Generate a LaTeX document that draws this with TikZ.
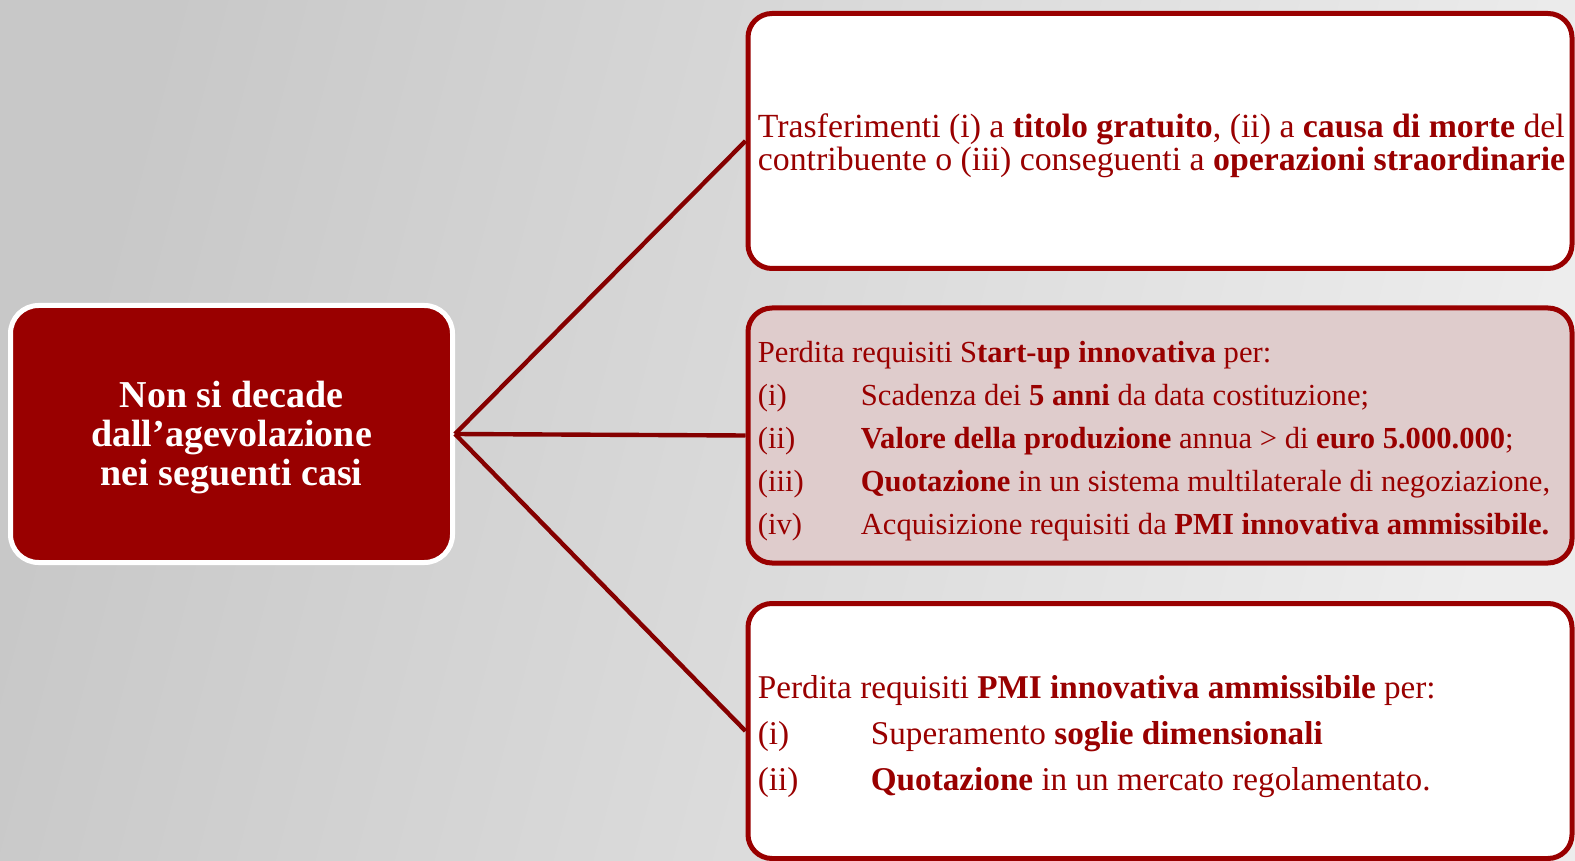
\documentclass[tikz,border=0pt]{standalone}
\usepackage{fontspec}
\setmainfont{Liberation Serif}
\definecolor{dred}{HTML}{990000}
\definecolor{lred}{HTML}{850000}
\definecolor{pinkfill}{HTML}{DFCCCC}
\definecolor{bgdark}{HTML}{C8C8C8}
\definecolor{bglight}{HTML}{EDEDED}
\begin{document}
\begin{tikzpicture}[x=0.5pt,y=-0.5pt,
  rbox/.style={draw=dred, line width=2.5pt, rounded corners=12pt, minimum width=412pt, minimum height=127.5pt, inner sep=0pt},
  txt/.style={text=dred, align=left, anchor=west, inner sep=0pt},
  conn/.style={draw=lred, line width=2.2pt}]
\useasboundingbox (0,0) rectangle (1575,861);
\shade[left color=bgdark, right color=bglight, shading angle=75] (0,0) rectangle (1575,861);
\node[draw=white, line width=2.5pt, fill=dred, rounded corners=14pt, minimum width=221pt, minimum height=128.5pt, inner sep=0pt] (main) at (231.5,434) {};
\node[text=white, inner sep=0pt, font=\bfseries\fontsize{19}{19.5}\selectfont, align=center] (maintxt) at ([yshift=-2pt]main.center) {Non si decade\\dall’agevolazione\\nei seguenti casi};
\node[rbox, fill=white] (top) at (1160,141) {};
\node[rbox, fill=pinkfill] (mid) at (1160,435.5) {};
\node[rbox, fill=white] (bot) at (1160,731) {};
\draw[conn] (main.east) -- (top.west);
\draw[conn] (main.east) -- (mid.west);
\draw[conn] (main.east) -- (bot.west);
\node[txt, font=\fontsize{16.9}{16.5}\selectfont] (toptxt) at ([xshift=6pt,yshift=-2.6pt]top.west) {Trasferimenti (i) a \textbf{titolo gratuito}, (ii) a \textbf{causa di morte} del\\contribuente o (iii) conseguenti a \textbf{operazioni straordinarie}};
\node[txt, font=\fontsize{15.3}{21.5}\selectfont] (midtxt) at ([xshift=6pt,yshift=-2.8pt]mid.west) {Perdita requisiti S\textbf{tart-up innovativa} per:\\
\makebox[51.5pt][l]{(i)}Scadenza dei \textbf{5 anni} da data costituzione;\\
\makebox[51.5pt][l]{(ii)}\textbf{Valore della produzione} annua > di \textbf{euro 5.000.000};\\
\makebox[51.5pt][l]{(iii)}\textbf{Quotazione} in un sistema multilaterale di negoziazione,\\
\makebox[51.5pt][l]{(iv)}Acquisizione requisiti da \textbf{PMI innovativa ammissibile.}};
\node[txt, font=\fontsize{16.6}{23}\selectfont] (bottxt) at ([xshift=6pt,yshift=-2.8pt]bot.west) {Perdita requisiti \textbf{PMI innovativa ammissibile} per:\\
\makebox[56.5pt][l]{(i)}Superamento \textbf{soglie dimensionali}\\
\makebox[56.5pt][l]{(ii)}\textbf{Quotazione} in un mercato regolamentato.};
\end{tikzpicture}
\end{document}
